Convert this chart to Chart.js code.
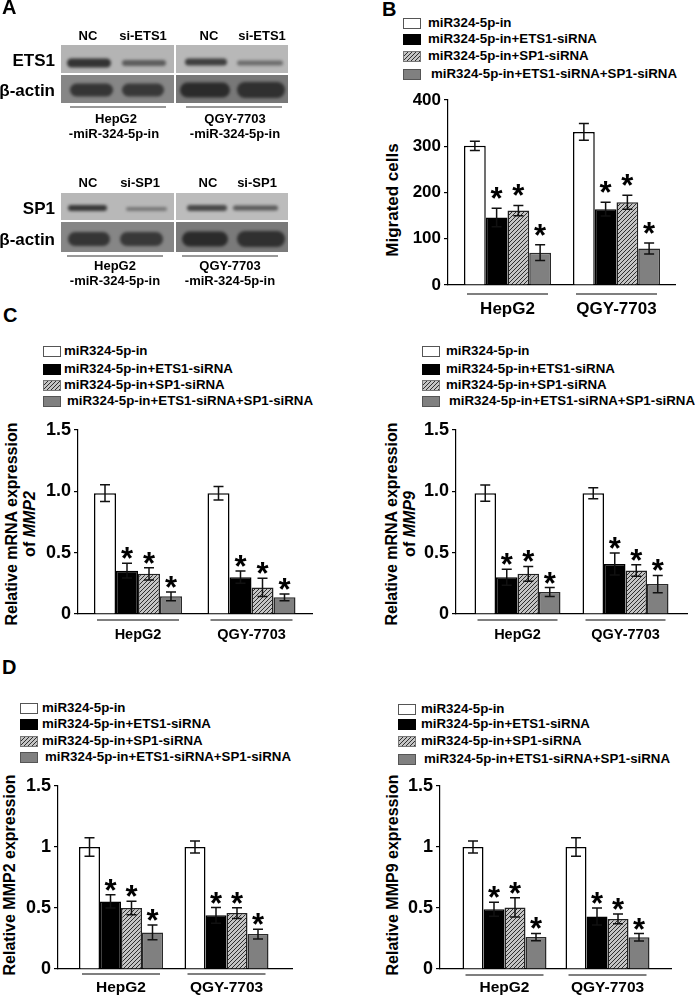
<!DOCTYPE html>
<html>
<head>
<meta charset="utf-8">
<script src="https://cdn.jsdelivr.net/npm/chart.js@4.4.1/dist/chart.umd.min.js"></script>
<style>
  html, body { margin: 0; padding: 0; background: #fff; }
  body { width: 695px; height: 996px; position: relative; overflow: hidden;
         font-family: "Liberation Sans", Arial, sans-serif; font-weight: bold; color: #000; }
  .t { position: absolute; white-space: nowrap; line-height: 1; }
  .box { position: absolute; box-sizing: border-box; }
  .wrap { position: absolute; }
</style>
</head>
<body>
<canvas id="blots" width="300" height="300" style="position:absolute;left:0;top:0"></canvas>

<script>
// ---- data ----
const groups = ["HepG2", "QGY-7703"];
const seriesNames = [
  "miR324-5p-in",
  "miR324-5p-in+ETS1-siRNA",
  "miR324-5p-in+SP1-siRNA",
  " miR324-5p-in+ETS1-siRNA+SP1-siRNA",
];
const migTicks = [0, 100, 200, 300, 400];
const relTicks = [0, 0.5, 1, 1.5];

// B: migrated cells (rows = series, cols = groups)
const migMean = [[301, 331], [146, 164], [161, 179], [70, 79]];
const migErr = [[10, 18], [20, 15], [11, 15], [17, 12]];

// C: relative mRNA of MMP2 / MMP9
const mmp2MrnaMean = [[0.985, 0.985], [0.353, 0.3], [0.328, 0.217], [0.144, 0.136]];
const mmp2MrnaErr = [[0.068, 0.055], [0.06, 0.05], [0.05, 0.075], [0.035, 0.027]];
const mmp9MrnaMean = [[0.985, 0.985], [0.3, 0.407], [0.328, 0.355], [0.179, 0.244]];
const mmp9MrnaErr = [[0.066, 0.045], [0.065, 0.09], [0.06, 0.047], [0.037, 0.07]];

// D: relative protein MMP2 / MMP9
const mmp2ProtMean = [[1.0, 1.0], [0.554, 0.44], [0.5, 0.458], [0.3, 0.286]];
const mmp2ProtErr = [[0.076, 0.05], [0.055, 0.064], [0.055, 0.045], [0.06, 0.04]];
const mmp9ProtMean = [[1.0, 1.0], [0.49, 0.43], [0.505, 0.41], [0.262, 0.26]];
const mmp9ProtErr = [[0.05, 0.075], [0.057, 0.07], [0.078, 0.04], [0.03, 0.03]];

const FONT = '"Liberation Sans", Arial, sans-serif';

// hatch tile for the SP1-siRNA series
const tile = document.createElement("canvas");
tile.width = tile.height = 4;
(function () {
  const g = tile.getContext("2d");
  g.fillStyle = "#c4c4c4";
  g.fillRect(0, 0, 4, 4);
  g.strokeStyle = "#2e2e2e";
  g.lineWidth = 1;
  g.beginPath();
  g.moveTo(0, 4); g.lineTo(4, 0);
  g.moveTo(-1, 1); g.lineTo(1, -1);
  g.moveTo(3, 5); g.lineTo(5, 3);
  g.stroke();
})();
const hatch = tile.getContext("2d").createPattern(tile, "repeat");
const fills = ["#ffffff", "#000000", hatch, "#808080"];
const borders = ["#000", "#000", "#222", "#2a2a2a"];

// helpers for text
function text(str, x, y, size, opts = {}) {
  const d = document.createElement("div");
  d.className = "t";
  d.textContent = str;
  d.style.left = x + "px";
  d.style.top = y + "px";
  d.style.fontSize = size + "px";
  let tf = opts.align === "left" ? "translate(0,-50%)" : opts.align === "right" ? "translate(-100%,-50%)" : "translate(-50%,-50%)";
  if (opts.rotate) tf += " rotate(-90deg)";
  d.style.transform = tf;
  if (opts.weight) d.style.fontWeight = opts.weight;
  if (opts.html) d.innerHTML = str;
  document.body.appendChild(d);
  return d;
}

function legend(boxX, textX, rowsY, size) {
  const styles = [
    "background:#fff;border:1px solid #555",
    "background:#000",
    "background:url(" + tile.toDataURL() + ");border:1px solid #777",
    "background:#808080;border:1px solid #555",
  ];
  rowsY.forEach((y, k) => {
    const b = document.createElement("div");
    b.className = "box";
    b.style.cssText += `left:${boxX}px;top:${y - 5}px;width:18px;height:11px;` + styles[k];
    document.body.appendChild(b);
    text(seriesNames[k].trim(), textX + (k === 3 ? 3 : 0), y, size || 13.3, { align: "left" });
  });
}

// ---- panel A: western blots ----
function drawBlots() {
  const ctx = document.getElementById("blots").getContext("2d");
  const panels = [[61, 174], [176, 288]];
  function row(y0, y1, bgs) {
    panels.forEach((p, i) => {
      ctx.fillStyle = bgs[i];
      ctx.fillRect(p[0], y0, p[1] - p[0], y1 - y0);
    });
  }
  function band(x0, x1, cy, h, color) {
    ctx.save();
    ctx.filter = "blur(1.6px)";
    ctx.fillStyle = color;
    ctx.beginPath();
    ctx.roundRect(x0, cy - h / 2, x1 - x0, h, h / 2);
    ctx.fill();
    ctx.restore();
  }
  function line(x0, x1, y) {
    ctx.strokeStyle = "#777";
    ctx.lineWidth = 1.5;
    ctx.beginPath();
    ctx.moveTo(x0, y);
    ctx.lineTo(x1, y);
    ctx.stroke();
  }
  // ETS1 blot
  row(45, 73, ["#b4b4b4", "#b8b8b8"]);
  row(75, 103, ["#868686", "#787878"]);
  band(67, 111, 63, 9, "#333");
  band(122, 166, 63, 6, "#5c5c5c");
  band(185, 227, 62, 7, "#3e3e3e");
  band(237, 283, 63, 5, "#6c6c6c");
  band(70, 113, 90, 13, "#353535");
  band(122, 164, 90, 13, "#383838");
  band(180, 230, 90, 15, "#2b2b2b");
  band(237, 285, 90, 16, "#303030");
  line(70, 166, 107);
  line(186, 282, 107);
  // SP1 blot
  row(193, 220, ["#b8b8b8", "#bcbcbc"]);
  row(222, 252, ["#868686", "#7a7a7a"]);
  band(68, 107, 208, 6, "#383838");
  band(126, 167, 209, 4, "#777");
  band(187, 227, 208, 6, "#484848");
  band(233, 278, 208, 5, "#5a5a5a");
  band(68, 110, 239, 14, "#353535");
  band(120, 163, 239, 14, "#383838");
  band(182, 228, 239, 15, "#2b2b2b");
  band(237, 285, 239, 16, "#303030");
  line(67, 163, 256);
  line(182, 278, 256);
}
drawBlots();

text("NC", 88, 35, 13); text("si-ETS1", 143, 35, 13);
text("NC", 209, 35, 13); text("si-ETS1", 262, 35, 13);
text("ETS1", 55, 60, 17, { align: "right" });
text("&beta;-actin", 55, 90, 17, { align: "right", html: true });
text("HepG2", 116, 118, 13); text("-miR-324-5p-in", 114, 133, 13);
text("QGY-7703", 235, 118, 13); text("-miR-324-5p-in", 235, 133, 13);

text("NC", 88, 182, 13); text("si-SP1", 140, 182, 13);
text("NC", 208, 182, 13); text("si-SP1", 257, 182, 13);
text("SP1", 55, 208, 17, { align: "right" });
text("&beta;-actin", 55, 239, 17, { align: "right", html: true });
text("HepG2", 115, 265, 13); text("-miR-324-5p-in", 115, 280, 13);
text("QGY-7703", 230, 265, 13); text("-miR-324-5p-in", 230, 280, 13);

// panel letters
text("A", 2, 7, 20, { align: "left" });
text("B", 382, 9, 20, { align: "left" });
text("C", 3, 315, 20, { align: "left" });
text("D", 2, 667, 20, { align: "left" });

// legends
legend(403, 428, [23, 39, 56, 74]);
legend(43, 64, [351, 369, 385, 401]);
legend(422, 446, [351, 369, 385, 401]);
legend(20, 42, [708, 724, 741, 757]);
legend(398, 421, [709, 724, 741, 759]);

// axis titles
text("Migrated cells", 392, 200, 17, { rotate: true });
text("Relative mRNA expression", 12, 524, 16, { rotate: true });
text("of <i>MMP2</i>", 30, 524, 16, { rotate: true, html: true });
text("Relative mRNA expression", 392, 524, 16, { rotate: true });
text("of <i>MMP9</i>", 410, 524, 16, { rotate: true, html: true });
text("Relative MMP2 expression", 10, 875, 16, { rotate: true });
text("Relative MMP9 expression", 393, 875, 16, { rotate: true });

// ---- bar charts ----
const errorBars = {
  id: "errorBars",
  afterDatasetsDraw(chart, args, o) {
    const { ctx, scales: { y } } = chart;
    ctx.save();
    chart.data.datasets.forEach((ds, k) => {
      const meta = chart.getDatasetMeta(k);
      meta.data.forEach((bar, i) => {
        const v = ds.data[i].y, e = o.err[k][i];
        const top = y.getPixelForValue(v + e), bot = y.getPixelForValue(v - e);
        ctx.strokeStyle = "#111";
        ctx.lineWidth = 1.5;
        ctx.beginPath();
        ctx.moveTo(bar.x, top); ctx.lineTo(bar.x, bot);
        ctx.moveTo(bar.x - 5, top); ctx.lineTo(bar.x + 5, top);
        ctx.moveTo(bar.x - 5, bot); ctx.lineTo(bar.x + 5, bot);
        ctx.stroke();
        if (k > 0) {
          ctx.fillStyle = "#000";
          ctx.font = "bold 31px " + FONT;
          ctx.textAlign = "center";
          ctx.textBaseline = "alphabetic";
          ctx.fillText("*", bar.x, top - o.starOff + 18);
        }
      });
    });
    ctx.restore();
  },
};

const groupLabels = {
  id: "groupLabels",
  afterDraw(chart, args, o) {
    const { ctx, scales: { y } } = chart;
    const base = y.getPixelForValue(0);
    const first = chart.getDatasetMeta(0), last = chart.getDatasetMeta(3);
    ctx.save();
    groups.forEach((g, i) => {
      const l = first.data[i].x - first.data[i].width / 2 + 3;
      const r = last.data[i].x + last.data[i].width / 2 - 3;
      ctx.strokeStyle = "#555";
      ctx.lineWidth = 1.5;
      ctx.beginPath();
      ctx.moveTo(l, base + o.line);
      ctx.lineTo(r, base + o.line);
      ctx.stroke();
      ctx.fillStyle = "#000";
      ctx.font = `bold ${o.size}px ${FONT}`;
      ctx.textAlign = "center";
      ctx.textBaseline = "middle";
      ctx.fillText(g, (l + r) / 2, base + o.text);
    });
    ctx.restore();
  },
};

function barChart(s) {
  const yW = 45, padTop = 15, padRight = 5, xH = 36;
  const wrap = document.createElement("div");
  wrap.className = "wrap";
  wrap.style.left = s.L - yW + "px";
  wrap.style.top = s.T - padTop + "px";
  const cv = document.createElement("canvas");
  cv.width = yW + (s.R - s.L) + padRight;
  cv.height = padTop + (s.B - s.T) + xH;
  wrap.appendChild(cv);
  document.body.appendChild(wrap);
  const step = s.c2 - s.c1;
  new Chart(cv, {
    type: "bar",
    data: {
      datasets: s.mean.map((vals, k) => ({
        label: seriesNames[k],
        data: vals.map((v, i) => ({ x: i, y: v })),
        backgroundColor: fills[k],
        borderColor: borders[k],
        borderWidth: 1.5,
        categoryPercentage: s.gw / step,
        barPercentage: 1,
      })),
    },
    options: {
      responsive: false,
      animation: false,
      layout: { padding: { top: padTop, right: padRight, left: 0, bottom: 0 } },
      plugins: {
        legend: { display: false },
        tooltip: { enabled: false },
        errorBars: { err: s.err, starOff: s.starOff },
        groupLabels: { line: s.line, text: s.text, size: s.labelSize },
      },
      scales: {
        x: {
          type: "linear",
          offset: false,
          bounds: "data",
          min: -(s.c1 - s.L) / step,
          max: 1 + (s.R - s.c2) / step,
          afterBuildTicks: (sc) => { sc.ticks = groups.map((g, i) => ({ value: i })); },
          afterFit: (sc) => { sc.height = xH; },
          ticks: { display: false },
          grid: { display: false, offset: false },
          border: { display: true, color: "#000", width: 1.2 },
        },
        y: {
          min: 0,
          max: s.ticks[s.ticks.length - 1],
          afterBuildTicks: (sc) => { sc.ticks = s.ticks.map((v) => ({ value: v })); },
          afterFit: (sc) => { sc.width = yW; },
          ticks: {
            color: "#000",
            padding: 3,
            font: { family: FONT, size: s.tickSize, weight: "bold" },
            callback: s.fmt,
          },
          grid: { display: true, drawOnChartArea: false, drawTicks: true, tickLength: 4, color: "#000", lineWidth: 1.2 },
          border: { display: true, color: "#000", width: 1.2 },
        },
      },
    },
    plugins: [errorBars, groupLabels],
  });
}

const fmtC = (v) => (v === 0 ? "0" : v.toFixed(1));
const fmtD = (v) => String(v);

// B
barChart({ L: 448, T: 100, R: 675, B: 285, c1: 507.5, c2: 616.5, gw: 87,
  mean: migMean, err: migErr, ticks: migTicks, tickSize: 17, fmt: (v) => String(v),
  starOff: 17, line: 9, text: 24, labelSize: 17 });
// C left
barChart({ L: 78, T: 430, R: 312, B: 614, c1: 138, c2: 251.5, gw: 88,
  mean: mmp2MrnaMean, err: mmp2MrnaErr, ticks: relTicks, tickSize: 18, fmt: fmtC,
  starOff: 12, line: 6, text: 21, labelSize: 14.5 });
// C right
barChart({ L: 456, T: 430, R: 687, B: 614, c1: 517.5, c2: 625.5, gw: 86,
  mean: mmp9MrnaMean, err: mmp9MrnaErr, ticks: relTicks, tickSize: 18, fmt: fmtC,
  starOff: 12, line: 6, text: 21, labelSize: 14.5 });
// D left
barChart({ L: 58, T: 786, R: 292, B: 969, c1: 121, c2: 226.5, gw: 84,
  mean: mmp2ProtMean, err: mmp2ProtErr, ticks: relTicks, tickSize: 18, fmt: fmtD,
  starOff: 12, line: 5, text: 19, labelSize: 15.5 });
// D right
barChart({ L: 440, T: 786, R: 671, B: 969, c1: 504.5, c2: 607.5, gw: 84,
  mean: mmp9ProtMean, err: mmp9ProtErr, ticks: relTicks, tickSize: 18, fmt: fmtD,
  starOff: 12, line: 6, text: 19, labelSize: 15.5 });
</script>
</body>
</html>
